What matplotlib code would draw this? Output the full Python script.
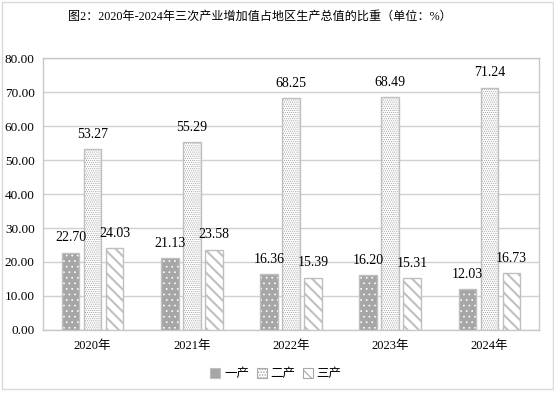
import matplotlib
matplotlib.use("Agg")
import matplotlib.pyplot as plt
import numpy as np
from matplotlib.patches import Rectangle, Patch

years = ["2020年", "2021年", "2022年", "2023年", "2024年"]
primary = [22.70, 21.13, 16.36, 16.20, 12.03]
secondary = [53.27, 55.29, 68.25, 68.49, 71.24]
tertiary = [24.03, 23.58, 15.39, 15.31, 16.73]
series_names = ["一产", "二产", "三产"]
yticks = [0, 10, 20, 30, 40, 50, 60, 70, 80]
title = "图2：2020年-2024年三次产业增加值占地区生产总值的比重（单位：%）"

FONT = ["Liberation Serif", "Noto Sans CJK SC", "DejaVu Sans"]
plt.rcParams["font.family"] = FONT

W, H = 554, 394
fig = plt.figure(figsize=(W / 100, H / 100), dpi=100)
fig.patches.append(Rectangle((1.5 / W, 5 / H), (W - 3) / W, (H - 6.5) / H,
                             transform=fig.transFigure, fill=False,
                             edgecolor="#d9d9d9", lw=1))

ax = fig.add_axes([43 / W, (H - 330) / H, (539 - 43) / W, (330 - 58) / H])
x = np.arange(len(years))
bw = 0.176
step = 0.222
edge = "#bfbfbf"

styles = [
    dict(fc="#a6a6a6", hatch="...", hc="white", hlw=0.5),
    dict(fc="white", hatch="........", hc="#a0a0a0", hlw=0.5),
    dict(fc="white", hatch="\\\\\\", hc="#c0c0c0", hlw=1.5),
]
data = [primary, secondary, tertiary]
for i, (vals, st) in enumerate(zip(data, styles)):
    xs = x + (i - 1) * step
    with plt.rc_context({"hatch.linewidth": st["hlw"]}):
        ax.bar(xs, vals, bw, color=st["fc"], edgecolor=st["hc"], hatch=st["hatch"],
               linewidth=0, zorder=3)
    ax.bar(xs, vals, bw, fill=False, edgecolor=edge, linewidth=1, zorder=4)
    for xi, v in zip(xs, vals):
        ax.annotate(f"{v:.2f}", (xi, v), xytext=(0, 6), textcoords="offset points",
                    ha="center", va="bottom", fontsize=10, color="#000000", zorder=5)

ax.set_xlim(-0.5, len(years) - 0.5)
ax.set_ylim(0, 80)
ax.set_yticks(yticks)
ax.set_yticklabels([f"{t:.2f}" for t in yticks], fontsize=9.5)
ax.set_xticks(x)
ax.set_xticklabels(years, fontsize=9)
ax.tick_params(axis="x", length=0, pad=7)
ax.tick_params(axis="y", length=0, pad=6)
ax.grid(axis="y", color="#d0d0d0", lw=1, zorder=0)
for s in ax.spines.values():
    s.set_color("#c8c8c8")
    s.set_linewidth(1)

with plt.rc_context({"hatch.linewidth": 0.8}):
    handles = [
        Patch(facecolor="#a6a6a6", edgecolor=edge, linewidth=0.8),
        Patch(facecolor="white", edgecolor="#a8a8a8", hatch="......", linewidth=0.8),
        Patch(facecolor="white", edgecolor="#a8a8a8", hatch="\\\\\\", linewidth=0.8),
    ]
    fig.legend(handles, series_names, loc="center", bbox_to_anchor=(276 / W, (H - 374) / H),
               ncol=3, frameon=False, fontsize=9, handlelength=0.8, handleheight=0.8,
               handletextpad=0.3, columnspacing=0.6)

fig.text(260 / W, (H - 17) / H, title, ha="center", va="center", fontsize=8.7)

fig.savefig("out.png", dpi=100)
